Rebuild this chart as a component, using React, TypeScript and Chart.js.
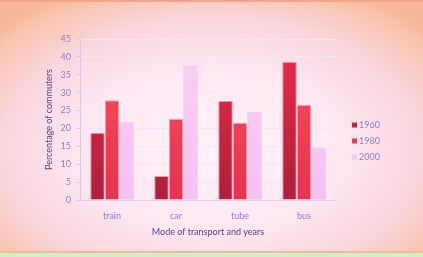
import React, { useEffect, useRef } from "react";
import { Chart, registerables } from "chart.js";

Chart.register(...registerables);

const categories = ["train", "car", "tube", "bus"];
const seriesLabels = ["1960", "1980", "2000"];
const values1960 = [18.8, 6.7, 27.7, 38.6];
const values1980 = [27.9, 22.7, 21.6, 26.6];
const values2000 = [21.7, 37.6, 24.6, 14.6];
const yTicks = [0, 5, 10, 15, 20, 25, 30, 35, 40, 45];

const FONT = "Lato, 'Open Sans', sans-serif";
const TICK_COLOR = "#8f7fce";
const TITLE_COLOR = "#5b3d86";
const legendColors = ["#c8203c", "#ec3654", "#f6c6f0"];

function gradient(chart: any, bottom: string, top: string, fallback: string) {
  const area = chart.chartArea;
  if (!area) return fallback;
  const g = chart.ctx.createLinearGradient(0, area.bottom, 0, area.top);
  g.addColorStop(0, bottom);
  g.addColorStop(1, top);
  return g;
}

const legendPlugin = {
  id: "sideLegend",
  afterDraw(chart: any) {
    const c = chart.ctx;
    c.save();
    c.font = `9px ${FONT}`;
    c.textBaseline = "middle";
    c.textAlign = "left";
    seriesLabels.forEach((lab, i) => {
      const y = 125 + i * 16;
      c.fillStyle = legendColors[i];
      c.fillRect(352, y - 2.5, 5, 5);
      c.fillStyle = TICK_COLOR;
      c.fillText(lab, 359, y + 0.5);
    });
    c.restore();
  },
};

export default function App() {
  const ref = useRef<HTMLCanvasElement>(null);
  useEffect(() => {
    if (!ref.current) return;
    const chart = new Chart(ref.current, {
      type: "bar",
      data: {
        labels: categories,
        datasets: [
          {
            label: seriesLabels[0],
            data: values1960,
            backgroundColor: (ctx: any) => gradient(ctx.chart, "#ac203a", "#f02a4a", "#d42542"),
            borderColor: "rgba(150,20,50,0.35)",
            borderWidth: 1,
          },
          {
            label: seriesLabels[1],
            data: values1980,
            backgroundColor: (ctx: any) => gradient(ctx.chart, "#e8324e", "#f6505e", "#ee4256"),
            borderColor: "rgba(190,30,60,0.3)",
            borderWidth: 1,
          },
          {
            label: seriesLabels[2],
            data: values2000,
            backgroundColor: (ctx: any) => gradient(ctx.chart, "#f6c2f2", "#fad0f0", "#f8c8f0"),
            borderWidth: 0,
          },
        ],
      },
      options: {
        animation: false,
        responsive: false,
        maintainAspectRatio: false,
        layout: { padding: { left: 44, right: 87, top: 39, bottom: 20 } },
        categoryPercentage: 0.68,
        barPercentage: 1,
        plugins: {
          legend: { display: false },
          tooltip: { enabled: false },
        },
        scales: {
          x: {
            grid: { display: false },
            border: { display: true, color: "rgba(225,205,245,0.9)" },
            ticks: { color: TICK_COLOR, font: { family: FONT, size: 9 }, padding: 3 },
            title: {
              display: true,
              text: "Mode of transport and years",
              color: TITLE_COLOR,
              font: { family: FONT, size: 9 },
              padding: 0,
            },
            afterFit: (s: any) => {
              s.height = 37;
            },
          },
          y: {
            min: 0,
            max: 45,
            afterBuildTicks: (s: any) => {
              s.ticks = yTicks.map((v) => ({ value: v }));
            },
            grid: { color: "rgba(244,228,252,0.95)", tickLength: 3, tickColor: "rgba(215,195,240,0.9)" },
            border: { display: true, color: "rgba(215,195,240,0.9)" },
            ticks: { color: TICK_COLOR, font: { family: FONT, size: 9 }, padding: 6 },
            title: {
              display: true,
              text: "Percentage of commuters",
              color: TITLE_COLOR,
              font: { family: FONT, size: 9 },
              padding: 0,
            },
            afterFit: (s: any) => {
              s.width = 36;
            },
          },
        },
      },
      plugins: [legendPlugin],
    } as any);
    return () => chart.destroy();
  }, []);

  return (
    <div
      style={{
        position: "fixed",
        left: 0,
        top: 0,
        width: 423,
        height: 257,
        background:
          "radial-gradient(ellipse 68% 70% at 50% 58%, #fef2f8 0%, #fde8f2 45%, #fad6de 72%, #f8c4ae 92%, #f6b898 100%)",
        overflow: "hidden",
      }}
    >
      <div style={{ position: "absolute", left: 0, top: 0, width: 423, height: 2, background: "#f2a686" }} />
      <div style={{ position: "absolute", left: 0, top: 251, width: 423, height: 2, background: "#f5b898" }} />
      <div style={{ position: "absolute", left: 0, top: 253, width: 423, height: 4, background: "#cdf0c6" }} />
      <canvas ref={ref} width={423} height={257} style={{ position: "absolute", left: 0, top: 0 }} />
    </div>
  );
}
